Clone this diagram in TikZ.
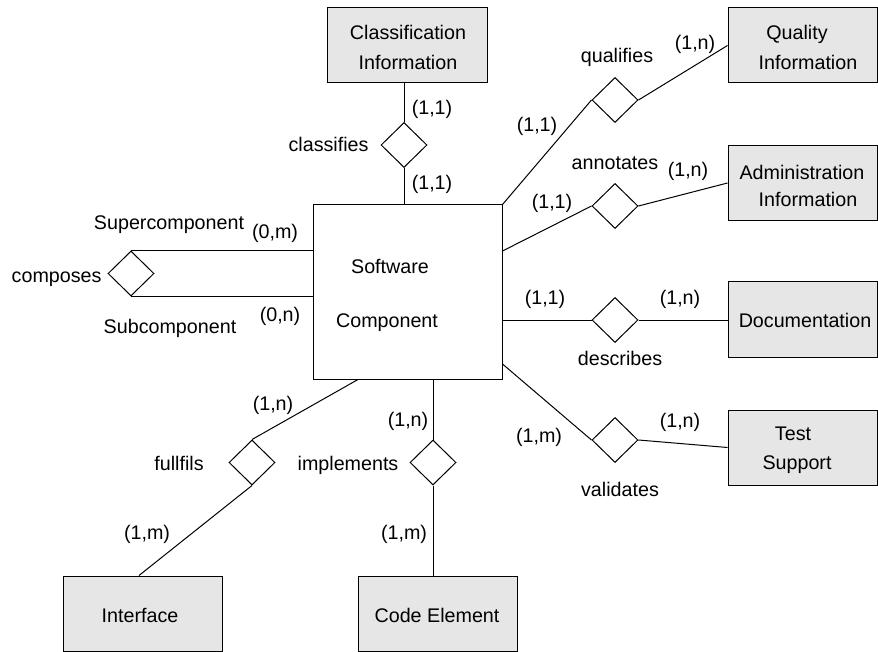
\documentclass[tikz,border=0pt]{standalone}
\usepackage{fontspec}
\setmainfont{Liberation Sans}
\usetikzlibrary{shapes.geometric}
\definecolor{boxgray}{RGB}{230,230,230}
\begin{document}
\begin{tikzpicture}[x=1pt,y=-1pt,
  line width=1pt,
  entity/.style={draw=black,fill=boxgray,rectangle,inner sep=0pt,minimum width=#1,minimum height=75pt},
  entity/.default=149pt,
  rel/.style={draw=black,fill=white,diamond,inner sep=0pt,minimum width=46pt,minimum height=45pt},
  lbl/.style={inner sep=0pt,font=\fontsize{19.7}{22}\selectfont,text height=14pt,text depth=0pt}
]
\useasboundingbox (0,0) rectangle (878,652);

% entities
\node[draw=black,fill=white,rectangle,inner sep=0pt,minimum width=189pt,minimum height=174pt] (sc) at (407.5,292) {};
\node[entity=160pt] (ci) at (407,45.5) {};
\node[entity] (qi) at (802.5,45.5) {};
\node[entity] (ai) at (802.5,183) {};
\node[entity] (doc) at (802.5,319.5) {};
\node[entity] (ts) at (802.5,447.5) {};
\node[entity=159pt] (intf) at (142.5,613.5) {};
\node[entity=159pt] (ce) at (437.5,613.5) {};

% entity texts
\node[lbl] (t1) at (390,267) {Software};
\node[lbl] (t2) at (387,320) {Component};
\node[lbl] (t3) at (408,33) {Classification};
\node[lbl] (t4) at (408,63) {Information};
\node[lbl] (t5) at (797,33) {Quality};
\node[lbl] (t6) at (808,63) {Information};
\node[lbl] (t7) at (802,173) {Administration};
\node[lbl] (t8) at (808,200) {Information};
\node[lbl] (t9) at (805,320) {Documentation};
\node[lbl] (t10) at (793,433) {Test};
\node[lbl] (t11) at (797,462) {Support};
\node[lbl] (t12) at (140,615) {Interface};
\node[lbl] (t13) at (437,615) {Code Element};

% relationships
\node[rel] (cl) at (404,145) {};
\node[rel] (qu) at (615,100) {};
\node[rel] (an) at (615,206) {};
\node[rel] (de) at (615,320) {};
\node[rel] (va) at (615,440) {};
\node[rel] (co) at (131,273.5) {};
\node[rel] (fu) at (252,462.5) {};
\node[rel] (im) at (433,462.5) {};

% connectors
\draw (cl.north) -- (cl.north |- ci.south);
\draw (cl.south) -- (cl.south |- sc.north);
\draw (qu.west) -- (sc.north east);
\draw (qu.east) -- (qi.west);
\draw (an.west) -- (sc.east |- 0,251);
\draw (an.east) -- (ai.west);
\draw (de.west) -- (de.west -| sc.east);
\draw (de.east) -- (de.east -| doc.west);
\draw (va.west) -- (sc.east |- 0,364);
\draw (va.east) -- (ts.west);
\draw (co.north) -- (co.north -| sc.west);
\draw (co.south) -- (co.south -| sc.west);
\draw (fu.north) -- (sc.south -| 358,0);
\draw (fu.south) -- (intf.north -| 139,0);
\draw (im.north) -- (im.north |- sc.south);
\draw (im.south) -- (im.south |- ce.north);

% relationship names and cardinalities
\node[lbl,anchor=east] (l1) at (369,145) {classifies};
\node[lbl] (l2) at (432,108) {(1,1)};
\node[lbl] (l3) at (432,183) {(1,1)};
\node[lbl] (l4) at (617,56) {qualifies};
\node[lbl] (l5) at (695,43) {(1,n)};
\node[lbl] (l6) at (537,125) {(1,1)};
\node[lbl] (l7) at (615,163) {annotates};
\node[lbl] (l8) at (688,170) {(1,n)};
\node[lbl] (l9) at (552,202) {(1,1)};
\node[lbl] (l10) at (545,298) {(1,1)};
\node[lbl] (l11) at (680,298) {(1,n)};
\node[lbl] (l12) at (620,358) {describes};
\node[lbl] (l13) at (539,435) {(1,m)};
\node[lbl] (l14) at (680,420) {(1,n)};
\node[lbl] (l15) at (620,489) {validates};
\node[lbl,anchor=east] (l16) at (102,276) {composes};
\node[lbl] (l17) at (169,223) {Supercomponent};
\node[lbl] (l18) at (275,232) {(0,m)};
\node[lbl] (l19) at (280,314) {(0,n)};
\node[lbl] (l20) at (170,327) {Subcomponent};
\node[lbl] (l21) at (273,403) {(1,n)};
\node[lbl] (l22) at (179,463) {fullfils};
\node[lbl] (l23) at (147,532) {(1,m)};
\node[lbl] (l24) at (348,463) {implements};
\node[lbl] (l25) at (408,419) {(1,n)};
\node[lbl] (l26) at (404,532) {(1,m)};
\end{tikzpicture}
\end{document}
